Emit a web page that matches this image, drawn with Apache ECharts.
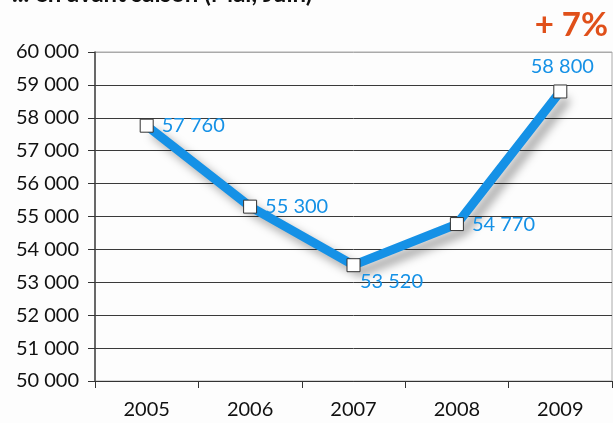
<!DOCTYPE html>
<html><head><meta charset="utf-8">
<script src="https://cdn.jsdelivr.net/npm/echarts@6/dist/echarts.min.js"></script>
<style>html,body{margin:0;padding:0;background:#fdfdfd}#c{width:613px;height:423px}</style>
</head><body><div id="c"></div>
<script>
const categories = ['2005', '2006', '2007', '2008', '2009'];
const values = [57760, 55300, 53520, 54770, 58800];
const labelPositions = ['right', 'right', 'bottom', 'right', 'top'];
const titleText = '... en avant saison (Mai, Juin)';
const growthText = '+ 7%';

const fmt = v => String(v).replace(/\B(?=(\d{3})+(?!\d))/g, ' ');
const font = 'Lato, "Open Sans", sans-serif';
const chart = echarts.init(document.getElementById('c'));
chart.setOption({
  backgroundColor: '#fdfdfd',
  animation: false,
  grid: { left: 95, right: 1, top: 52, bottom: 42, show: true, borderColor: '#aaa', borderWidth: 1, backgroundColor: 'transparent' },
  graphic: [
    { type: 'text', left: 12, top: -18, style: { text: titleText, font: 'bold 24px ' + font, fill: '#111' } },
    { type: 'text', right: 5, top: 9, style: { text: growthText, font: 'bold 33px ' + font, fill: '#e0501a' } }
  ],
  xAxis: {
    type: 'category', data: categories, boundaryGap: true,
    axisLine: { lineStyle: { color: '#333', width: 1 } },
    axisTick: { show: true, length: 7, lineStyle: { color: '#333' } },
    axisLabel: { color: '#111', fontFamily: font, fontSize: 20, margin: 19 }
  },
  yAxis: {
    type: 'value', min: 50000, max: 60000, interval: 1000,
    axisLine: { show: true, lineStyle: { color: '#444', width: 1.5 } },
    axisTick: { show: true, length: 7, lineStyle: { color: '#333' } },
    axisLabel: { color: '#111', fontFamily: font, fontSize: 20, margin: 16, formatter: fmt },
    splitLine: { lineStyle: { color: ['#3a3a3a','#3a3a3a','#3a3a3a','#3a3a3a','#3a3a3a','#3a3a3a','#3a3a3a','#3a3a3a','#3a3a3a','#3a3a3a','#aaa'], width: 1 } }
  },
  series: [{
    type: 'line',
    data: values.map((v, i) => ({
      value: v,
      label: {
        position: labelPositions[i],
        offset: labelPositions[i] === 'bottom' ? [38, -6] : (labelPositions[i] === 'top' ? [2, -3] : [0, 0]),
        distance: labelPositions[i] === 'right' ? 8 : 5
      }
    })),
    symbol: 'rect', symbolSize: 13,
    itemStyle: { color: '#fff', borderColor: '#333', borderWidth: 1 },
    lineStyle: { color: '#1591e6', width: 9, shadowColor: 'rgba(0,0,0,0.35)', shadowBlur: 10, shadowOffsetX: 7, shadowOffsetY: 7 },
    label: { show: true, color: '#1591e6', fontFamily: font, fontSize: 20, formatter: p => fmt(p.value) },
    z: 5
  }]
});
</script></body></html>
